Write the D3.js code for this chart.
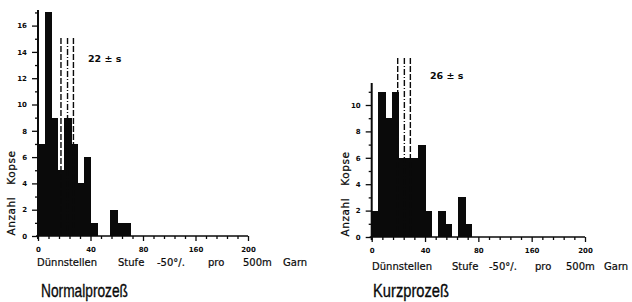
<!DOCTYPE html>
<html><head><meta charset="utf-8">
<script src="https://cdn.jsdelivr.net/npm/d3@7"></script>
<style>body{margin:0;background:#fff}svg{display:block}</style>
</head><body>
<script>
// ---- data (bins of 5 units starting at 0) ----
const binWidth = 5;
const normalCounts = [7, 17, 9, 5, 9, 7, 4, 6, 1, 0, 0, 2, 1, 1];
const kurzCounts   = [2, 11, 9, 11, 6, 6, 6, 7, 2, 0, 2, 1, 0, 3, 1];
const normalLines = [17.5, 22.5, 27];   // mean ± s markers
const kurzLines   = [19.5, 24.5, 29];
const normalNote = "22 ± s";
const kurzNote   = "26 ± s";
const xTickValues = [0, 40, 80, 120, 160];
const xTickLabels = ["0", "40", "80", "160", "200"];
const normalYTicks = [0, 2, 4, 6, 8, 10, 12, 14, 16];
const kurzYTicks   = [0, 2, 4, 6, 8, 10];
const yTitle = ["Anzahl", "Kopse"];
const xTitleWords = ["Dünnstellen", "Stufe", "-50°/.", "pro", "500m", "Garn"];
const titles = ["Normalprozeß", "Kurzprozeß"];

const W = 632, H = 302;
const svg = d3.select("body").append("svg").attr("width", W).attr("height", H);
const ink = "#0a0a0a";

function panel(cfg) {
  const g = svg.append("g");
  const x = d3.scaleLinear().domain([0, 160]).range([cfg.x0, cfg.x1]);
  const y = d3.scaleLinear().domain([0, cfg.yMax]).range([cfg.y0, cfg.yTop]);

  // bars
  g.selectAll("rect.bar").data(cfg.counts).enter().append("rect")
    .attr("x", (d, i) => x(i * binWidth))
    .attr("width", (d, i) => x((i + 1) * binWidth) - x(i * binWidth) + 0.8)
    .attr("y", d => y(d))
    .attr("height", d => y(0) - y(d))
    .attr("fill", ink)
    .attr("shape-rendering", "crispEdges");

  // mean ± s lines
  g.selectAll("line.ms").data(cfg.lines).enter().append("line")
    .attr("x1", d => x(d)).attr("x2", d => x(d))
    .attr("y1", cfg.lineTop).attr("y2", y(0))
    .attr("stroke", ink).attr("stroke-width", 1.4)
    .attr("stroke-dasharray", (d, i) => i === 1 ? "6,2,1,2" : "6,2");

  // y axis
  const yMinor = d3.range(1, Math.floor(cfg.yMax) + 1, 2);
  const yAx = g.append("g").attr("transform", `translate(${cfg.x0},0)`)
    .call(d3.axisLeft(y).tickValues(cfg.yTicks).tickSize(6).tickPadding(5).tickFormat(d3.format("d")));
  yAx.select(".domain").remove();
  g.append("g").attr("transform", `translate(${cfg.x0},0)`)
    .call(d3.axisLeft(y).tickValues(yMinor).tickSize(3).tickFormat(""))
    .select(".domain").remove();
  g.append("line").attr("x1", cfg.x0).attr("x2", cfg.x0)
    .attr("y1", cfg.yTop).attr("y2", cfg.y0 + 3)
    .attr("stroke", ink).attr("stroke-width", 2);

  // x axis
  const xAx = g.append("g").attr("transform", `translate(0,${cfg.y0})`)
    .call(d3.axisBottom(x).tickValues(xTickValues).tickSize(5).tickPadding(6)
      .tickFormat((d, i) => xTickLabels[i]));
  xAx.select(".domain").remove();
  g.append("g").attr("transform", `translate(0,${cfg.y0})`)
    .call(d3.axisBottom(x).tickValues(d3.range(0, 161, 8).filter(v => v % 40 !== 0)).tickSize(3).tickFormat(""))
    .select(".domain").remove();
  g.append("line").attr("x1", cfg.x0 - 2).attr("x2", cfg.x1)
    .attr("y1", cfg.y0).attr("y2", cfg.y0)
    .attr("stroke", ink).attr("stroke-width", 1.6);

  g.selectAll(".tick line").attr("stroke", ink).attr("stroke-width", 1.3);
  g.selectAll(".tick text").attr("fill", ink)
    .attr("font-family", "DejaVu Sans").attr("font-weight", "bold").attr("font-size", 7);

  // note
  g.append("text").attr("x", cfg.noteX).attr("y", cfg.noteY)
    .attr("font-family", "DejaVu Sans").attr("font-weight", "bold").attr("font-size", 9.5)
    .attr("fill", ink).text(cfg.note);

  // y title (rotated)
  g.append("text")
    .attr("transform", `translate(${cfg.yTitleX},${cfg.yTitleY}) rotate(-90)`)
    .attr("text-anchor", "middle")
    .attr("font-family", "DejaVu Sans").attr("font-size", 10.5).attr("fill", ink)
    .attr("stroke", ink).attr("stroke-width", 0.25)
    .attr("letter-spacing", 0.6)
    .attr("xml:space", "preserve")
    .text(yTitle.join("   "));

  // x title words
  g.selectAll("text.xw").data(xTitleWords).enter().append("text")
    .attr("x", (d, i) => cfg.wordX[i]).attr("y", cfg.xTitleY)
    .attr("font-family", "DejaVu Sans").attr("font-size", 10).attr("fill", ink)
    .attr("stroke", ink).attr("stroke-width", 0.2)
    .text(d => d);

  // panel title
  g.append("text").attr("x", cfg.titleX).attr("y", 297)
    .attr("font-family", "Liberation Sans").attr("font-size", 19).attr("fill", ink)
    .attr("stroke", ink).attr("stroke-width", 0.35)
    .attr("textLength", cfg.titleW).attr("lengthAdjust", "spacingAndGlyphs")
    .text(cfg.title);
}

panel({
  counts: normalCounts, lines: normalLines, note: normalNote, yTicks: normalYTicks,
  x0: 38, x1: 248, y0: 236, yTop: 10, yMax: (236 - 10) / 13.15,
  lineTop: 38, noteX: 88, noteY: 62,
  yTitleX: 15, yTitleY: 193, xTitleY: 266,
  wordX: [37, 118, 157, 208, 243, 283],
  title: titles[0], titleX: 41, titleW: 87
});
panel({
  counts: kurzCounts, lines: kurzLines, note: kurzNote, yTicks: kurzYTicks,
  x0: 371.7, x1: 585, y0: 237, yTop: 83, yMax: (237 - 83) / 13.2,
  lineTop: 58, noteX: 430, noteY: 79,
  yTitleX: 349, yTitleY: 194, xTitleY: 270,
  wordX: [372, 452, 489, 535, 566, 604],
  title: titles[1], titleX: 373, titleW: 76
});
</script>
</body></html>
